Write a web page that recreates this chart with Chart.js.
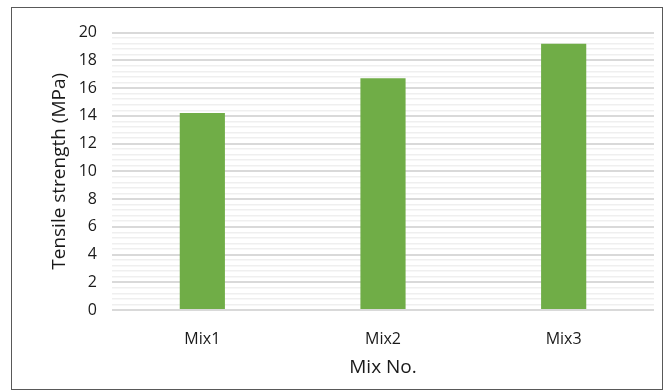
<!DOCTYPE html>
<html>
<head>
<meta charset="utf-8">
<script src="https://cdn.jsdelivr.net/npm/chart.js@4"></script>
<style>
    html, body { margin: 0; padding: 0; background: #fff; }
    #frame {
        position: absolute;
        left: 11px; top: 7px;
        width: 650px; height: 381px;
        border: 1px solid #595959;
    }
</style>
</head>
<body>
<div id="frame"><canvas id="chart" width="650" height="381"></canvas></div>
<script>
// Chart data
const categories = ['Mix1', 'Mix2', 'Mix3'];
const tensileValues = [14.2, 16.7, 19.2];
const yMin = 0;
const yMax = 20;
const yLabelStep = 2;   // labelled ticks
const yMinorStep = 0.4; // light gridlines in between

const isMajor = v => Math.abs(v / yLabelStep - Math.round(v / yLabelStep)) < 1e-6;

const ctx = document.getElementById('chart');
new Chart(ctx, {
    type: 'bar',
    data: {
        labels: categories,
        datasets: [{
            label: 'Tensile strength (MPa)',
            data: tensileValues,
            backgroundColor: '#70AD47',
            borderWidth: 0,
            barPercentage: 0.5,
            categoryPercentage: 0.5
        }]
    },
    options: {
        responsive: false,
        animation: false,
        layout: { padding: { top: 24, right: 8, bottom: 0, left: 0 } },
        plugins: {
            legend: { display: false },
            tooltip: { enabled: false }
        },
        scales: {
            x: {
                grid: { display: false },
                border: { display: false },
                ticks: {
                    color: '#1a1a1a',
                    padding: 12,
                    font: { family: 'Open Sans', size: 16 }
                },
                title: {
                    display: true,
                    text: 'Mix No.',
                    color: '#1a1a1a',
                    padding: { top: 8, bottom: 10 },
                    font: { family: 'Open Sans', size: 19 }
                },
                afterFit: s => { s.height = 79; }
            },
            y: {
                min: yMin,
                max: yMax,
                border: { display: false },
                grid: {
                    drawTicks: false,
                    color: c => isMajor(c.tick.value) ? '#d9d9d9' : '#efefef',
                    lineWidth: c => isMajor(c.tick.value) ? 2 : 1.5
                },
                ticks: {
                    stepSize: yMinorStep,
                    autoSkip: false,
                    color: '#1a1a1a',
                    padding: 15,
                    font: { family: 'Open Sans', size: 16 },
                    callback: v => isMajor(v) ? String(Math.round(v)) : ''
                },
                title: {
                    display: true,
                    text: 'Tensile strength (MPa)',
                    color: '#1a1a1a',
                    padding: { top: 36, bottom: 0 },
                    font: { family: 'Open Sans', size: 19 }
                },
                afterFit: s => { s.width = 100; }
            }
        }
    }
});
</script>
</body>
</html>
